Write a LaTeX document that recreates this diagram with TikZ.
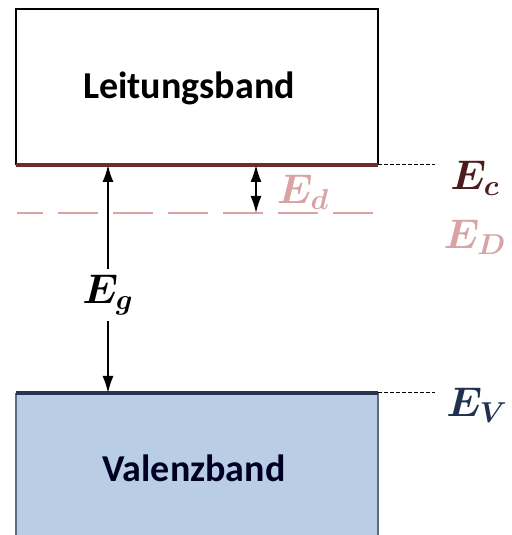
\documentclass[tikz,border=0pt]{standalone}
\usepackage{fontspec}
\usepackage{bm}
\newfontfamily\bandfont{Carlito}
\usetikzlibrary{arrows.meta,positioning}

\definecolor{cbred}{HTML}{6E2C2C}
\definecolor{ecred}{HTML}{4A1C1C}
\definecolor{donor}{HTML}{D9A3A3}
\definecolor{vbfill}{HTML}{B9CDE5}
\definecolor{vbnavy}{HTML}{263650}
\definecolor{vbside}{HTML}{5F6B7E}
\definecolor{evblue}{HTML}{1F3050}

\tikzset{
  bandlabel/.style={font=\bandfont\bfseries\fontsize{19}{22}\selectfont},
  level/.style={font=\fontsize{20}{24}\selectfont},
  guide/.style={dash pattern=on 2pt off 1pt,line width=0.5pt},
}

\begin{document}
\begin{tikzpicture}[x=0.5pt,y=0.5pt,>={Latex[length=8.5pt,width=5.5pt]}]
  \useasboundingbox (0,0) rectangle (512,535);
  % Leitungsband
  \fill[white] (16,370) rectangle (378,526);
  \draw[line width=0.8pt] (16,370) -- (16,526) -- (378,526) -- (378,370);
  \draw[cbred,line width=1.6pt] (16,370) -- (378,370);
  \node[bandlabel] (lb) at (189,447) {Leitungsband};
  % Valenzband
  \fill[vbfill] (16,0) rectangle (378,142);
  \draw[vbside,line width=0.8pt] (16,0) -- (16,142) (378,142) -- (378,0);
  \draw[vbnavy,line width=1.6pt] (16,142) -- (378,142);
  \node[bandlabel,text=black!85!blue] (vb) at (194,67) {Valenzband};
  % Donatorniveau
  \draw[donor,line width=1.4pt,dash pattern=on 20pt off 7.5pt,dash phase=7pt]
    (17,322) -- (378,322);
  % Bandkanten
  \coordinate (ctop) at (108,370);
  \coordinate (vtop) at (108,142);
  \coordinate (dtop) at (256,370);
  \coordinate (dlev) at (256,322);
  \coordinate (cend) at (378,370);
  \coordinate (vend) at (378,142);
  \node[level,text=ecred] (ec) at (475,357) {$\bm{E_c}$};
  \node[level,text=donor] (eD) at (475,298) {$\bm{E_D}$};
  \node[level,text=evblue] (ev) at (477,130) {$\bm{E_V}$};
  \node[level,text=donor] (ed) at (303,343) {$\bm{E_d}$};
  \draw[guide] (cend) -- (435,370);
  \draw[guide] (vend) -- (435,142);
  % Energieluecken
  \draw[<->,line width=0.8pt] (vtop) -- (ctop);
  \draw[<->,line width=0.8pt] (dlev) -- (dtop);
  \node[level,fill=white,inner sep=3pt] (eg) at (108,240) {$\bm{E_g}$};
\end{tikzpicture}
\end{document}
